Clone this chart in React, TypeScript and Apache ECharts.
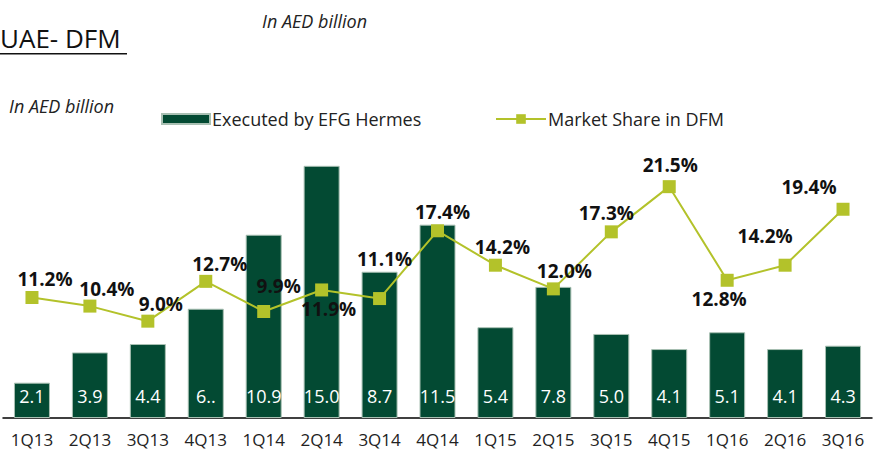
import React, { useEffect, useRef } from "react";
import * as echarts from "echarts";

const categories = ["1Q13","2Q13","3Q13","4Q13","1Q14","2Q14","3Q14","4Q14","1Q15","2Q15","3Q15","4Q15","1Q16","2Q16","3Q16"];
const executed = [2.1, 3.9, 4.4, 6.5, 10.9, 15.0, 8.7, 11.5, 5.4, 7.8, 5.0, 4.1, 5.1, 4.1, 4.3];
const executedLabels = ["2.1","3.9","4.4","6..","10.9","15.0","8.7","11.5","5.4","7.8","5.0","4.1","5.1","4.1","4.3"];
const marketShare = [11.2, 10.4, 9.0, 12.7, 9.9, 11.9, 11.1, 17.4, 14.2, 12.0, 17.3, 21.5, 12.8, 14.2, 19.4];

// label placement (style), relative to the marker centre
const shareLabelOffsets: [number, number][] = [
  [13, -18], [17, -17], [13, -17], [14, -17], [15, -25], [7, 19], [5, -40], [5, -19],
  [7, -18], [11, -18], [-5, -19], [1, -22], [-8, 19], [-20, -29], [-34, -22],
];

const FONT = "'Open Sans', 'Noto Sans', sans-serif";
const BAR_COLOR = "#034a33";
const LINE_COLOR = "#b3c22a";

export default function App() {
  const ref = useRef<HTMLDivElement>(null);
  useEffect(() => {
    if (!ref.current) return;
    const chart = echarts.init(ref.current, null, { renderer: "svg" });
    chart.setOption({
      animation: false,
      backgroundColor: "#ffffff",
      textStyle: { fontFamily: FONT },
      grid: { left: 3, right: 8, top: 149, bottom: 32, containLabel: false },
      legend: [
        {
          data: [{ name: "Executed by EFG Hermes", icon: "rect" }],
          left: 156, top: 105,
          itemWidth: 48, itemHeight: 10, itemGap: 5,
          textStyle: { fontFamily: FONT, fontSize: 18, color: "#222", padding: [0, 0, 0, -3] },
        },
        {
          data: ["Market Share in DFM"],
          left: 490, top: 105,
          itemWidth: 50, itemHeight: 12, itemGap: 5,
          textStyle: { fontFamily: FONT, fontSize: 18, color: "#222", padding: [0, 0, 0, -3] },
        },
      ],
      graphic: [
        { type: "text", left: 262, top: 12, style: { text: "In AED billion", font: `italic 18px ${FONT}`, fill: "#222" } },
        { type: "text", left: 9, top: 97, style: { text: "In AED billion", font: `italic 18px ${FONT}`, fill: "#222" } },
        { type: "text", x: 0, y: 25, style: { text: "UAE- DFM", font: `26px ${FONT}`, fill: "#111" } },
        { type: "rect", shape: { x: 0, y: 53, width: 127, height: 1.5 }, style: { fill: "#111" } },
      ],
      xAxis: {
        type: "category",
        data: categories,
        axisLine: { lineStyle: { color: "#000", width: 1.5 } },
        axisTick: { show: false },
        axisLabel: { interval: 0, fontFamily: FONT, fontSize: 17, color: "#222", margin: 13 },
      },
      yAxis: [
        { type: "value", min: 0, max: 16, show: false },
        { type: "value", min: 0, max: 25, show: false },
      ],
      series: [
        {
          name: "Executed by EFG Hermes",
          type: "bar",
          data: executed,
          barWidth: 36,
          itemStyle: { color: BAR_COLOR, borderColor: "#a9c0b3", borderWidth: 1 },
          label: {
            show: true,
            position: "insideBottom",
            distance: 13,
            color: "#ffffff",
            fontFamily: FONT,
            fontSize: 18,
            formatter: (p: any) => executedLabels[p.dataIndex],
          },
          z: 2,
        },
        {
          name: "Market Share in DFM",
          type: "line",
          yAxisIndex: 1,
          data: marketShare.map((v, i) => ({
            value: v,
            label: { offset: shareLabelOffsets[i] },
          })),
          symbol: "rect",
          symbolSize: 13,
          lineStyle: { color: LINE_COLOR, width: 2 },
          itemStyle: { color: LINE_COLOR },
          label: {
            show: true,
            position: "inside",
            color: "#111",
            fontFamily: FONT,
            fontWeight: "bold",
            fontSize: 19,
            formatter: (p: any) => `${p.value.toFixed(1)}%`,
          },
          z: 5,
        },
      ],
    });
    return () => chart.dispose();
  }, []);
  return <div ref={ref} style={{ position: "fixed", left: 0, top: 0, width: 880, height: 450 }} />;
}
